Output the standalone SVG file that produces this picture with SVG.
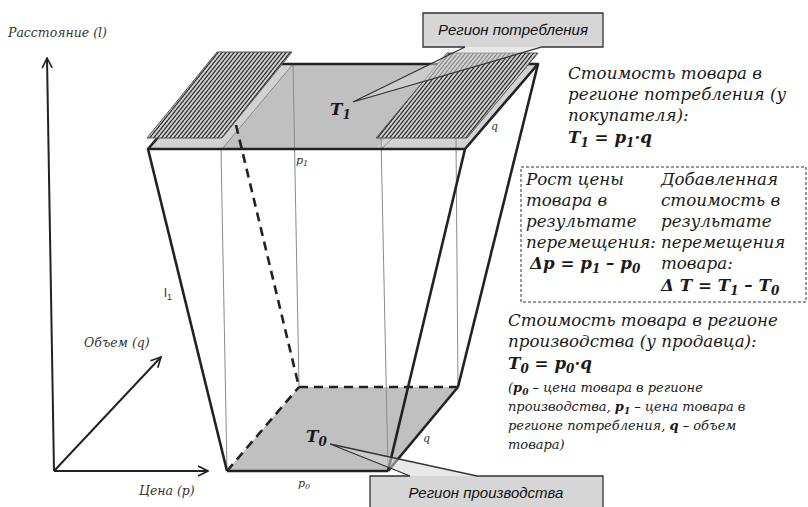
<svg xmlns="http://www.w3.org/2000/svg" width="808" height="507" viewBox="0 0 808 507">
<defs>
<pattern id="hatch" x="0" y="0" width="4" height="5" patternUnits="userSpaceOnUse">
<rect width="4" height="5" fill="#d0d0d0"/>
<g stroke="#333" stroke-width="1.4">
<line x1="-4" y1="5" x2="0" y2="0"/>
<line x1="0" y1="5" x2="4" y2="0"/>
<line x1="4" y1="5" x2="8" y2="0"/>
</g>
</pattern>
<marker id="arr" viewBox="0 0 12 12" refX="11" refY="6" markerWidth="12" markerHeight="12" markerUnits="userSpaceOnUse" orient="auto">
<path d="M1,1 L11,6 L1,11" fill="none" stroke="#222" stroke-width="1.6"/>
</marker>
<style>
.ax{stroke:#222;stroke-width:2;fill:none}
.thick{stroke:#222;stroke-width:2.6;fill:none;stroke-linejoin:round}
.dash{stroke:#222;stroke-width:2.6;fill:none;stroke-dasharray:9 6}
.thin{stroke:#8a8a8a;stroke-width:1;fill:none}
.face{fill:#c0c0c0}
.light{fill:#d2d2d2}
.hatch{fill:url(#hatch);stroke:#555;stroke-width:1}
.axl{font-family:"DejaVu Serif","Liberation Serif",serif;font-style:italic;font-size:12.5px;fill:#333}
.txt{font-family:"DejaVu Serif","Liberation Serif",serif;font-style:italic;font-size:16.7px;fill:#1a1a1a}
.sm{font-family:"DejaVu Serif","Liberation Serif",serif;font-style:italic;font-size:13px;fill:#1a1a1a}
.b{font-weight:bold}
.lbl{font-family:"DejaVu Serif","Liberation Serif",serif;font-style:italic;font-size:11px;fill:#333}
.box{font-family:"Liberation Sans","DejaVu Sans",sans-serif;font-style:italic;font-size:15px;fill:#111}
</style>
</defs>

<g id="axes">
<line class="ax" x1="54" y1="471" x2="47" y2="58" marker-end="url(#arr)"/>
<line class="ax" x1="54" y1="471" x2="208" y2="471" marker-end="url(#arr)"/>
<line class="ax" x1="54" y1="471" x2="161" y2="357" marker-end="url(#arr)"/>
<text class="axl" x="8" y="37">Расстояние (l)</text>
<text class="axl" x="84" y="347">Объем (q)</text>
<text class="axl" x="139" y="495">Цена (р)</text>
</g>

<g id="bottom-face">
<polygon class="face" points="227,471 388,471 458,387 299,387"/>
</g>

<g id="top-face">
<polygon class="face" points="148,149 465,149 538,64 221,64"/>
<polygon class="light" points="148,149 222,149 293,64 221,64"/>
<polygon class="light" points="376,149 465,149 538,64 450,64"/>
<line class="thin" x1="222" y1="149" x2="293" y2="64"/>
<line class="thin" x1="381" y1="149" x2="393" y2="138"/>
</g>

<g id="connectors">
<line class="thin" x1="221" y1="149" x2="227" y2="471"/>
<line class="thin" x1="293" y1="64" x2="299" y2="387"/>
<line class="thin" x1="381" y1="138" x2="388" y2="471"/>
<line class="thin" x1="456" y1="138" x2="458" y2="387"/>
<line class="dash" x1="236" y1="125" x2="299" y2="387"/>
<line class="dash" x1="299" y1="387" x2="458" y2="387"/>
<line class="dash" x1="227" y1="471" x2="299" y2="387"/>
<line class="thick" x1="227" y1="471" x2="388" y2="471"/>
<line class="thick" x1="388" y1="471" x2="458" y2="387"/>
<line class="thick" x1="148" y1="149" x2="227" y2="471"/>
<line class="thick" x1="465" y1="149" x2="388" y2="471"/>
<line class="thick" x1="538" y1="64" x2="458" y2="387"/>
<polyline class="thick" points="221,64 538,64 465,149 148,149 221,64"/>
</g>

<g id="hatch-left">
<polygon class="hatch" points="217,52 292,52 222,138 147,138"/>
</g>
<g id="hatch-right">
<polygon class="hatch" points="447,53 538,53 467,138 376,138"/>
</g>

<g id="labels">
<text class="lbl" x="296" y="164">p<tspan font-size="8" dy="2">1</tspan></text>
<text class="lbl" x="298" y="487">p<tspan font-size="8" dy="2">0</tspan></text>
<text class="lbl" x="491" y="130" font-size="13">q</text>
<text class="lbl" x="423" y="442" font-size="13">q</text>
<text x="164" y="297" font-family="Liberation Sans,sans-serif" font-size="13" fill="#333">l<tspan font-size="9" dy="3">1</tspan></text>
</g>

<g id="callout-top">
<polygon points="353,102 465,47 542,47" fill="#d6d6d6" fill-opacity="0.55"/>
<rect x="423" y="13" width="180" height="34" fill="#d6d6d6"/>
<path d="M423,13 H603 V47 H542 L353,102 L465,47 H423 Z" fill="none" stroke="#333" stroke-width="1.3"/>
<text class="box" x="513" y="35" text-anchor="middle">Регион потребления</text>
</g>

<g id="callout-bottom">
<polygon points="330,444 410,476 477,476" fill="#d6d6d6" fill-opacity="0.55"/>
<rect x="370" y="476" width="233" height="40" fill="#d6d6d6"/>
<path d="M370,476 H410 L330,444 L477,476 H603 V516 H370 Z" fill="none" stroke="#333" stroke-width="1.3"/>
<text class="box" x="486" y="498" text-anchor="middle">Регион производства</text>
</g>

<g id="T1">
<text class="txt b" x="330" y="115" font-size="19">T<tspan font-size="12" dy="4">1</tspan></text>
</g>
<g id="T0">
<text class="txt b" x="306" y="442" font-size="19">T<tspan font-size="12" dy="4">0</tspan></text>
</g>

<g id="text-consumer">
<text class="txt" x="568" y="79">Стоимость товара в</text>
<text class="txt" x="568" y="100">регионе потребления (у</text>
<text class="txt" x="568" y="121">покупателя):</text>
<text class="txt b" x="568" y="143">T<tspan font-size="12" dy="4">1</tspan><tspan dy="-4"> = p</tspan><tspan font-size="12" dy="4">1</tspan><tspan dy="-4">·q</tspan></text>
</g>

<g id="delta-box">
<rect x="521" y="167" width="285" height="135" fill="none" stroke="#333" stroke-width="1" stroke-dasharray="3 2"/>
<text class="txt" x="526" y="185">Рост цены</text>
<text class="txt" x="526" y="206">товара в</text>
<text class="txt" x="526" y="227">результате</text>
<text class="txt" x="526" y="248">перемещения:</text>
<text class="txt b" x="530" y="269">Δp = p<tspan font-size="12" dy="4">1</tspan><tspan dy="-4"> – p</tspan><tspan font-size="12" dy="4">0</tspan></text>
<text class="txt" x="661" y="185">Добавленная</text>
<text class="txt" x="661" y="206">стоимость в</text>
<text class="txt" x="661" y="227">результате</text>
<text class="txt" x="661" y="248">перемещения</text>
<text class="txt" x="661" y="269">товара:</text>
<text class="txt b" x="661" y="291">Δ T = T<tspan font-size="12" dy="4">1</tspan><tspan dy="-4"> – T</tspan><tspan font-size="12" dy="4">0</tspan></text>
</g>

<g id="text-producer">
<text class="txt" x="508" y="326">Стоимость товара в регионе</text>
<text class="txt" x="508" y="347">производства (у продавца):</text>
<text class="txt b" x="508" y="369">T<tspan font-size="12" dy="4">0</tspan><tspan dy="-4"> = p</tspan><tspan font-size="12" dy="4">0</tspan><tspan dy="-4">·q</tspan></text>
<text class="sm" x="508" y="392">(<tspan class="b">p<tspan font-size="9" dy="3">0</tspan></tspan><tspan dy="-3"> – цена товара в регионе</tspan></text>
<text class="sm" x="508" y="411">производства, <tspan class="b">p<tspan font-size="9" dy="3">1</tspan></tspan><tspan dy="-3"> – цена товара в</tspan></text>
<text class="sm" x="508" y="430">регионе потребления, <tspan class="b">q</tspan> – объем</text>
<text class="sm" x="508" y="449">товара)</text>
</g>
</svg>
